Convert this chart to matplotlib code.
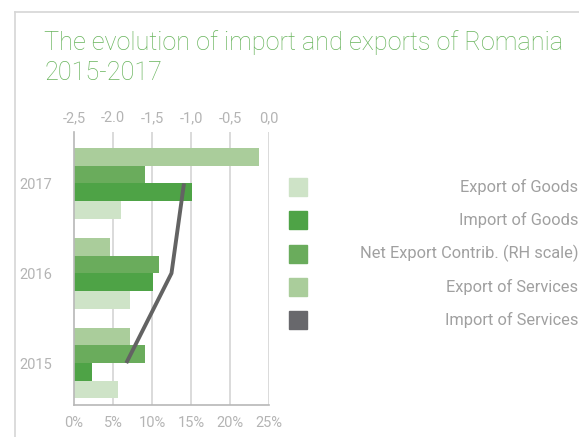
import matplotlib
matplotlib.use("Agg")
import matplotlib.pyplot as plt
from matplotlib.lines import Line2D
from matplotlib.patches import Rectangle
import numpy as np

plt.rcParams['font.family'] = ['Roboto', 'DejaVu Sans']

# data (percent of GDP, bottom axis) and net export contribution (top axis)
years = ['2015', '2016', '2017']
export_goods = [5.6, 7.2, 6.0]
import_goods = [2.3, 10.1, 15.1]
net_export = [9.1, 10.9, 9.1]
export_services = [7.2, 4.65, 23.7]
import_services = [-1.83, -1.25, -1.09]

series_names = ['Export of Goods', 'Import of Goods', 'Net Export Contrib. (RH scale)',
                'Export of Services', 'Import of Services']
top_ticks = [-2.5, -2.0, -1.5, -1.0, -0.5, 0.0]
top_labels = ['-2,5', '-2.0', '-1,5', '-1,0', '-0,5', '0,0']
bottom_ticks = [0, 5, 10, 15, 20, 25]
bottom_labels = ['0%', '5%', '10%', '15%', '20%', '25%']

colors = ['#cee3c7', '#4ea346', '#6aac5c', '#aacd9b', '#68686c']
line_color = '#636363'
tick_color = '#b4b4b4'
grid_color = '#d4d4d4'

W, H = 579, 437
fig = plt.figure(figsize=(W / 100, H / 100), dpi=100)

# outer frame
fig.add_artist(Line2D([15/W, 15/W], [0, 1 - 12/H], color='#d6d6d6', lw=1.2))
fig.add_artist(Line2D([15/W, 1], [1 - 12/H, 1 - 12/H], color='#d6d6d6', lw=1.2))

fig.text(44/W, 1 - 50/H, 'The evolution of import and exports of Romania',
         color='#68b45c', fontsize=18.2, fontweight='light', ha='left', va='baseline')
fig.text(44/W, 1 - 80/H, '2015-2017',
         color='#68b45c', fontsize=18.2, fontweight='light', ha='left', va='baseline')

ax = fig.add_axes([74/W, 1 - 405/H, 195/W, 273/H])
y = np.arange(len(years))
h = 0.197
bar_series = [export_goods, import_goods, net_export, export_services]
for i, vals in enumerate(bar_series):
    ax.barh(y + (i - 1.5) * h, vals, height=h, color=colors[i], zorder=2)

ax.set_xlim(0, 25)
ax.set_ylim(-0.467, 2.572)
ax.set_xticks(bottom_ticks)
ax.set_xticklabels(bottom_labels)
ax.set_yticks(y)
ax.set_yticklabels(years)
ax.tick_params(axis='x', length=0, pad=8, labelsize=10.5, labelcolor=tick_color)
ax.tick_params(axis='y', length=0, pad=16, labelsize=10.5, labelcolor=tick_color)
for x in bottom_ticks[1:]:
    ax.axvline(x, color=grid_color, lw=1.2, zorder=1)
for s in ['top', 'right']:
    ax.spines[s].set_visible(False)
for s in ['left', 'bottom']:
    ax.spines[s].set_color('#b8b8b8')
    ax.spines[s].set_linewidth(1.2)

# net export contribution on the top scale
ax2 = ax.twiny()
ax2.plot(import_services, y, color=line_color, lw=2.8, zorder=3, solid_capstyle='butt')
ax2.set_xlim(-2.5, 0)
ax2.set_xticks(top_ticks)
ax2.set_xticklabels(top_labels)
ax2.tick_params(axis='x', length=0, pad=5, labelsize=10.5, labelcolor=tick_color)
for s in ax2.spines.values():
    s.set_visible(False)

# legend on the right
for i, name in enumerate(series_names):
    yc = 1 - (187 + i * 33.3) / H
    fig.add_artist(Rectangle((289/W, yc - 9/H), 18/W, 18/H,
                             color=colors[i], transform=fig.transFigure))
    fig.text(578/W, yc, name, ha='right', va='center', fontsize=11.8, color='#a0a0a0')

fig.savefig('out.png', dpi=100)
